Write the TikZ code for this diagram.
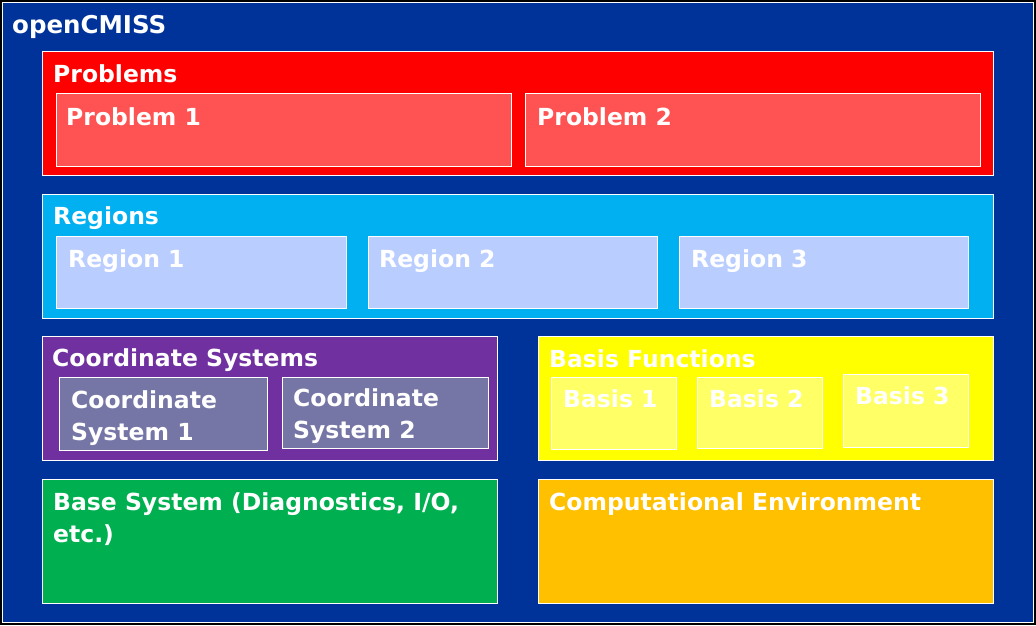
\documentclass[tikz,border=0pt]{standalone}
\usepackage{fontspec}
\setmainfont{DejaVu Sans}
\definecolor{bgblue}{RGB}{0,51,153}
\definecolor{probred}{RGB}{255,0,0}
\definecolor{probsub}{RGB}{255,82,82}
\definecolor{regcyan}{RGB}{0,176,240}
\definecolor{regsub}{RGB}{185,205,255}
\definecolor{cspurple}{RGB}{112,48,160}
\definecolor{cssub}{RGB}{117,118,166}
\definecolor{bfyellow}{RGB}{255,255,0}
\definecolor{bfsub}{RGB}{255,255,102}
\definecolor{basegreen}{RGB}{0,176,80}
\definecolor{comporange}{RGB}{255,192,0}
\tikzset{
  panel/.style={draw=white, line width=0.8pt},
  lbl/.style={anchor=base west, inner sep=0pt, text=white, font=\fontsize{23.5}{32}\selectfont\bfseries, align=left},
}
\begin{document}
\begin{tikzpicture}[x=1pt,y=-1pt]
\useasboundingbox (0,0) rectangle (1036,625);
\fill[black] (0,0) rectangle (1036,625);
\filldraw[fill=bgblue, draw=white, line width=0.8pt] (2,2) rectangle (1033,622);
\node[lbl, font=\fontsize{24.5}{32}\selectfont\bfseries] (title) at (12,33) {openCMISS};
% Problems
\filldraw[panel, fill=probred] (42,51) rectangle (993,175);
\node[lbl] (problems) at (53,82) {Problems};
\filldraw[panel, fill=probsub] (56,93) rectangle (511,166);
\node[lbl] (p1) at (66,125) {Problem 1};
\filldraw[panel, fill=probsub] (525,93) rectangle (980,166);
\node[lbl] (p2) at (537,125) {Problem 2};
% Regions
\filldraw[panel, fill=regcyan] (42,194) rectangle (993,318);
\node[lbl] (regions) at (53,224) {Regions};
\filldraw[panel, fill=regsub] (56,236) rectangle (346,308);
\node[lbl] (r1) at (68,267) {Region 1};
\filldraw[panel, fill=regsub] (368,236) rectangle (657,308);
\node[lbl] (r2) at (379,267) {Region 2};
\filldraw[panel, fill=regsub] (679,236) rectangle (968,308);
\node[lbl] (r3) at (691,267) {Region 3};
% Coordinate systems
\filldraw[panel, fill=cspurple] (42,336) rectangle (497,460);
\node[lbl] (cs) at (52,366) {Coordinate Systems};
\filldraw[panel, fill=cssub] (59,377) rectangle (267,450);
\node[lbl] (cs1) at (71,440) {Coordinate\\System 1};
\filldraw[panel, fill=cssub] (282,377) rectangle (488,448);
\node[lbl] (cs2) at (293,438) {Coordinate\\System 2};
% Basis functions
\filldraw[panel, fill=bfyellow] (538,336) rectangle (993,460);
\node[lbl] (bf) at (549,367) {Basis Functions};
\filldraw[panel, fill=bfsub] (551,377) rectangle (676,449);
\node[lbl] (b1) at (563,407) {Basis 1};
\filldraw[panel, fill=bfsub] (697,377) rectangle (822,448);
\node[lbl] (b2) at (709,407) {Basis 2};
\filldraw[panel, fill=bfsub] (843,374) rectangle (968,447);
\node[lbl] (b3) at (855,404) {Basis 3};
% Base system
\filldraw[panel, fill=basegreen] (42,479) rectangle (497,603);
\node[lbl] (base) at (53,542) {Base System (Diagnostics, I/O,\\etc.)};
% Computational environment
\filldraw[panel, fill=comporange] (538,479) rectangle (993,603);
\node[lbl] (comp) at (549,510) {Computational Environment};
\end{tikzpicture}
\end{document}
